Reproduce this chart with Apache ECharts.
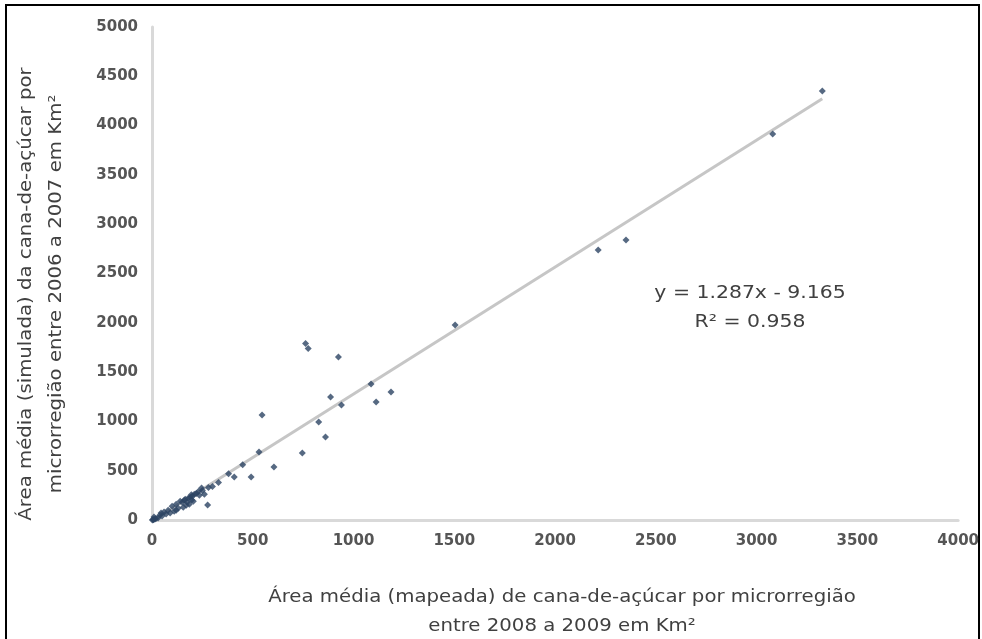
<!DOCTYPE html>
<html>
<head>
<meta charset="utf-8">
<script src="https://cdn.jsdelivr.net/npm/echarts@6/dist/echarts.min.js"></script>
<style>
  html, body { margin: 0; padding: 0; background: #ffffff; }
  #chart { width: 982px; height: 639px; }
</style>
</head>
<body>
<div id="chart"></div>
<script>
// Mapped (x) vs simulated (y) mean sugar-cane area per micro-region, km²
const mappedArea = [
  3326, 3080, 2352, 2214, 1504, 762, 775, 925, 1186, 1112, 1087, 940, 886, 827, 861,
  546, 531, 746, 605, 492, 408, 276, 450, 380, 330, 300, 250,
  246, 197, 150, 190, 210, 230, 170, 130, 110, 90, 70, 50, 30, 15, 5, 10, 40, 60, 80,
  100, 120, 140, 160, 180, 200, 220, 175, 155, 185, 205, 120, 20, 8, 2, 45, 260, 280,
  235, 195, 165
];
const simulatedArea = [
  4351, 3915, 2840, 2738, 1978, 1790, 1740, 1653, 1298, 1197, 1380, 1166, 1247, 994, 842,
  1065, 690, 680, 538, 436, 436, 152, 560, 470, 380, 340, 300,
  325, 203, 180, 230, 260, 290, 150, 120, 90, 70, 60, 40, 20, 10, 5, 30, 50, 80, 100,
  140, 160, 190, 200, 220, 240, 270, 180, 130, 160, 190, 100, 15, 2, 1, 70, 260, 330,
  250, 255, 210
];

// Linear trendline as reported on the chart
const trendSlope = 1.287;
const trendIntercept = -9.165;
const trendLabel = 'y = 1.287x - 9.165';
const r2Label = 'R² = 0.958';

const xTicks = { min: 0, max: 4000, interval: 500 };
const yTicks = { min: 0, max: 5000, interval: 500 };

const xTitle = 'Área média (mapeada) de cana-de-açúcar por microrregião\nentre 2008 a 2009 em Km²';
const yTitle = 'Área média (simulada) da cana-de-açúcar por\nmicrorregião entre 2006 a 2007 em Km²';

const points = mappedArea.map((x, i) => [x, simulatedArea[i]]);
const xMinData = Math.min(...mappedArea);
const xMaxData = Math.max(...mappedArea);
const trendPoints = [
  [xMinData, trendSlope * xMinData + trendIntercept],
  [xMaxData, trendSlope * xMaxData + trendIntercept]
];

const font = 'DejaVu Sans';
const textStretch = 1.16;
const plainNumber = v => String(v);
const chart = echarts.init(document.getElementById('chart'), null, { renderer: 'canvas' });

chart.setOption({
  backgroundColor: '#ffffff',
  animation: false,
  grid: { left: 152, right: 17, top: 27, bottom: 119 },
  xAxis: {
    type: 'value',
    min: xTicks.min, max: xTicks.max, interval: xTicks.interval,
    axisLine: { show: true, lineStyle: { color: '#d9d9d9', width: 3 } },
    axisTick: { show: false },
    splitLine: { show: false },
    axisLabel: { color: '#555555', fontFamily: font, fontSize: 15, fontWeight: 'bold', margin: 14, formatter: plainNumber }
  },
  yAxis: {
    type: 'value',
    min: yTicks.min, max: yTicks.max, interval: yTicks.interval,
    axisLine: { show: true, lineStyle: { color: '#d9d9d9', width: 3 } },
    axisTick: { show: false },
    splitLine: { show: false },
    axisLabel: { color: '#555555', fontFamily: font, fontSize: 15, fontWeight: 'bold', margin: 14, formatter: plainNumber }
  },
  series: [
    {
      type: 'line',
      data: trendPoints,
      showSymbol: false,
      symbol: 'none',
      lineStyle: { color: '#c6c6c6', width: 3 },
      z: 1,
      silent: true
    },
    {
      type: 'scatter',
      data: points,
      symbol: 'diamond',
      symbolSize: 7,
      itemStyle: { color: '#2c4463' },
      z: 2
    }
  ],
  graphic: [
    {
      type: 'rect',
      shape: { x: 6, y: 5, width: 973, height: 650 },
      style: { fill: 'none', stroke: '#000000', lineWidth: 2 },
      silent: true
    },
    {
      type: 'text',
      x: 562, y: 612,
      scaleX: textStretch,
      style: {
        text: xTitle, fill: '#404040', font: '17px "' + font + '"',
        textAlign: 'center', textVerticalAlign: 'middle', lineHeight: 29
      }
    },
    {
      type: 'text',
      x: 42, y: 294,
      rotation: Math.PI / 2,
      scaleX: textStretch,
      style: {
        text: yTitle, fill: '#404040', font: '17px "' + font + '"',
        textAlign: 'center', textVerticalAlign: 'middle', lineHeight: 30
      }
    },
    {
      type: 'text',
      x: 750, y: 308,
      scaleX: 1.2,
      style: {
        text: trendLabel + '\n' + r2Label, fill: '#404040', font: '17px "' + font + '"',
        textAlign: 'center', textVerticalAlign: 'middle', lineHeight: 29
      }
    }
  ]
});
</script>
</body>
</html>
